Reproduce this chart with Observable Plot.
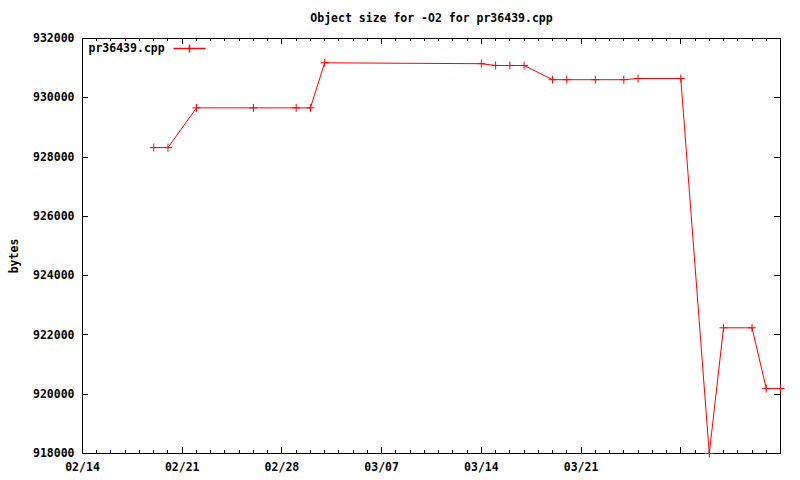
<!DOCTYPE html>
<html><head><meta charset="utf-8">
<script src="https://cdn.jsdelivr.net/npm/d3@7"></script>
<script src="https://cdn.jsdelivr.net/npm/@observablehq/plot@0.6"></script>
<style>body{margin:0;background:#fff} svg{display:block}</style>
</head><body><div id="chart"></div>
<script>
const year = 2009;
const title = "Object size for -O2 for pr36439.cpp";
const yLabel = "bytes";
const seriesName = "pr36439.cpp";
const dates = ["02/19","02/20","02/22","02/26","03/01","03/02","03/03","03/14","03/15","03/16","03/17","03/19","03/20","03/22","03/24","03/25","03/28","03/30","03/31","04/02","04/03","04/04"];
const bytes = [928320,928320,929660,929660,929660,929660,931180,931150,931090,931090,931090,930610,930610,930610,930610,930650,930650,918000,922240,922240,920190,920190];
const xDomain = ["02/14","04/04"];
const xTickDates = ["02/14","02/21","02/28","03/07","03/14","03/21","03/28"];
const xTickLabels = ["02/14","02/21","02/28","03/07","03/14","03/21",""];
const yTicks = [918000,920000,922000,924000,926000,928000,930000,932000];

const parse = s => { const [m,d] = s.split("/").map(Number); return new Date(Date.UTC(year, m-1, d)); };
const data = dates.map((d,i) => ({date: parse(d), bytes: bytes[i]}));
const x0 = parse(xDomain[0]), x1 = parse(xDomain[1]);
const days = d3.utcDay.range(x0, d3.utcDay.offset(x1, 1));
const majors = xTickDates.map(parse);
const labelMap = new Map(majors.map((d,i) => [+d, xTickLabels[i]]));

const W = 800, H = 480, mL = 82, mR = 20, mT = 38, mB = 27;
const fw = W - mL - mR, fh = H - mT - mB;
const plus = {draw(ctx, size){ const r = Math.sqrt(size/Math.PI); ctx.moveTo(-r,0); ctx.lineTo(r,0); ctx.moveTo(0,-r); ctx.lineTo(0,r); }};
const swatch = {draw(ctx, size){ const r = Math.sqrt(size/Math.PI); ctx.moveTo(-4*r,0); ctx.lineTo(4*r,0); ctx.moveTo(0,-r); ctx.lineTo(0,r); }};

const chart = Plot.plot({
  width: W, height: H,
  marginLeft: mL, marginRight: mR, marginTop: mT, marginBottom: mB,
  style: {fontFamily: "'DejaVu Sans Mono', monospace", fontSize: "11.5px", fontWeight: "bold", color: "black", background: "white"},
  x: {type: "utc", domain: [x0, x1]},
  y: {domain: [yTicks[0], yTicks[yTicks.length-1]]},
  marks: [
    Plot.axisX({ticks: majors, tickSize: 0, tickPadding: 9, tickFormat: d => labelMap.get(+d), label: null}),
    Plot.axisY({ticks: yTicks, tickSize: 0, tickPadding: 8, tickFormat: d => String(d), label: null}),
    Plot.ruleX(days, {x: d => d, insetTop: fh - 3, stroke: "black", shapeRendering: "crispEdges"}),
    Plot.ruleX(days, {x: d => d, insetBottom: fh - 3, stroke: "black", shapeRendering: "crispEdges"}),
    Plot.ruleX(majors, {x: d => d, insetTop: fh - 6, stroke: "black", shapeRendering: "crispEdges"}),
    Plot.ruleX(majors, {x: d => d, insetBottom: fh - 6, stroke: "black", shapeRendering: "crispEdges"}),
    Plot.ruleY(yTicks, {y: d => d, insetRight: fw - 6, stroke: "black", shapeRendering: "crispEdges"}),
    Plot.ruleY(yTicks, {y: d => d, insetLeft: fw - 6, stroke: "black", shapeRendering: "crispEdges"}),
    Plot.frame({stroke: "black", shapeRendering: "crispEdges"}),
    Plot.line(data, {x: "date", y: "bytes", stroke: "red", strokeWidth: 1}),
    Plot.dot(data, {x: "date", y: "bytes", symbol: plus, r: 4, stroke: "red", strokeWidth: 1, fill: "none"}),
    Plot.text([title], {frameAnchor: "top", dy: -20, lineAnchor: "middle", fill: "black"}),
    Plot.text([yLabel], {frameAnchor: "left", dx: -68, dy: 10, rotate: -90, textAnchor: "middle", lineAnchor: "middle", fill: "black"}),
    Plot.text([seriesName], {frameAnchor: "top-left", dx: 6, dy: 10, lineAnchor: "middle", textAnchor: "start", fill: "black"}),
    Plot.dot([seriesName], {frameAnchor: "top-left", dx: 107, dy: 10, symbol: swatch, r: 4, stroke: "red", fill: "none"})
  ]
});
document.getElementById("chart").append(chart);
</script>
</body></html>
